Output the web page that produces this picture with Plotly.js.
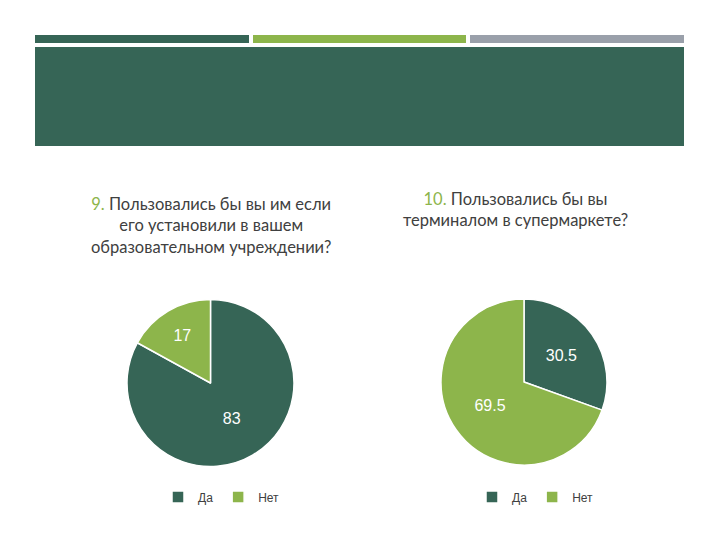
<!DOCTYPE html>
<html>
<head>
<meta charset="utf-8">
<script src="https://cdn.plot.ly/plotly-3.0.1.min.js"></script>
<style>html,body{margin:0;padding:0;background:#fff;}#chart{width:720px;height:540px;}</style>
</head>
<body>
<div id="chart"></div>
<script>
const categories = ["Да", "Нет"];
const valuesQ9 = [83, 17];
const valuesQ10 = [30.5, 69.5];
const titleQ9Num = "9.";
const titleQ9Lines = ["Пользовались бы вы им если", "его установили в вашем", "образовательном учреждении?"];
const titleQ10Num = "10.";
const titleQ10Lines = ["Пользовались бы вы", "терминалом в супермаркете?"];

const W = 720, H = 540;
const px = v => v / W;
const py = v => 1 - v / H;
const dark = "#366556", light = "#8db54b", grey = "#9aa0aa";

const pieCommon = {
  type: "pie",
  sort: false,
  direction: "clockwise",
  rotation: 0,
  textinfo: "value",
  textposition: "inside",
  insidetextorientation: "horizontal",
  textfont: {family: "Liberation Sans, Arial, sans-serif", size: 16, color: "#ffffff"},
  marker: {colors: [dark, light], line: {color: "#ffffff", width: 1.5}},
  hoverinfo: "label+value"
};

// second chart gets its own legend; labels made distinct (zero-width suffix) so the
// legend entries are not merged with the first chart's
const data = [
  Object.assign({}, pieCommon, {
    labels: categories,
    values: valuesQ9,
    domain: {x: [px(127), px(294)], y: [py(467), py(299)]},
    legend: "legend"
  }),
  Object.assign({}, pieCommon, {
    labels: categories.map(c => c + "\u200b"),
    values: valuesQ10,
    domain: {x: [px(441), px(607)], y: [py(465), py(299)]},
    legend: "legend2"
  })
];

const legendStyle = {
  orientation: "h",
  xanchor: "left", yanchor: "middle",
  font: {family: "Liberation Sans, Arial, sans-serif", size: 12, color: "#404040"},
  itemwidth: 30,
  tracegroupgap: 0,
  bgcolor: "rgba(0,0,0,0)"
};

const titleFont = {family: "Lato, 'Open Sans', sans-serif", size: 16.5, color: "#404040"};

const layout = {
  width: W, height: H,
  margin: {l: 0, r: 0, t: 0, b: 0},
  paper_bgcolor: "#ffffff",
  plot_bgcolor: "#ffffff",
  showlegend: true,
  legend: Object.assign({}, legendStyle, {x: px(158), y: py(497)}),
  legend2: Object.assign({}, legendStyle, {x: px(472), y: py(497)}),
  shapes: [
    {type: "rect", xref: "paper", yref: "paper", x0: px(35), x1: px(249), y0: py(43), y1: py(35), fillcolor: dark, line: {width: 0}},
    {type: "rect", xref: "paper", yref: "paper", x0: px(253), x1: px(466), y0: py(43), y1: py(35), fillcolor: light, line: {width: 0}},
    {type: "rect", xref: "paper", yref: "paper", x0: px(470), x1: px(684), y0: py(43), y1: py(35), fillcolor: grey, line: {width: 0}},
    {type: "rect", xref: "paper", yref: "paper", x0: px(35), x1: px(684), y0: py(146), y1: py(47), fillcolor: dark, line: {width: 0}}
  ],
  annotations: [
    {
      xref: "paper", yref: "paper", x: px(211), y: py(225), xanchor: "center", yanchor: "middle",
      showarrow: false, align: "center", font: titleFont,
      text: '<span style="color:' + light + '">' + titleQ9Num + '</span> ' + titleQ9Lines.join("<br>")
    },
    {
      xref: "paper", yref: "paper", x: px(515), y: py(209), xanchor: "center", yanchor: "middle",
      showarrow: false, align: "center", font: titleFont,
      text: '<span style="color:' + light + '">' + titleQ10Num + '</span> ' + titleQ10Lines.join("<br>")
    }
  ]
};

Plotly.newPlot("chart", data, layout, {displayModeBar: false, staticPlot: true});
</script>
</body>
</html>
